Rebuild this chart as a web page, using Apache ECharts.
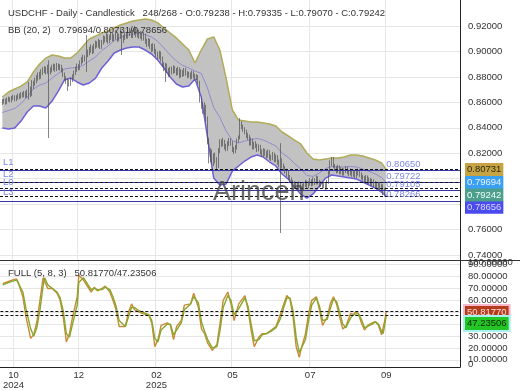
<!DOCTYPE html>
<html><head><meta charset="utf-8">
<script src="https://cdn.jsdelivr.net/npm/echarts@6/dist/echarts.min.js"></script>
<style>html,body{margin:0;padding:0;background:#fff}#c{width:520px;height:390px}</style>
</head><body><div id="c"></div>
<script>
// ---------- DATA (prices in pips: price x 10000) ----------
const opens = [
8598,8604,8613,8597,8621,8627,8614,8633,8641,8624,
8637,8651,8641,8661,8654,8669,8649,8673,8701,8664,
8721,8744,8771,8789,8811,8799,8836,8849,8861,8839,
8876,8839,8851,8869,8886,8859,8891,8874,8881,8854,
8821,8789,8771,8759,8746,8776,8799,8831,8859,8881,
8869,8911,8929,8951,8939,8976,8989,9011,9029,9001,
9039,9061,9049,9076,9039,9071,9099,9091,9119,9081,
9109,9131,9099,9111,9139,9096,9119,9151,9084,9111,
9129,9121,9139,9161,9124,9151,9169,9131,9154,9121,
9139,9106,9129,9081,9059,9086,9039,9021,9044,9001,
8979,8961,8984,8941,8899,8871,8889,8851,8821,8859,
8841,8869,8851,8829,8861,8809,8841,8819,8851,8829,
8811,8819,8801,8829,8811,8789,8801,8758,8621,8579,
8541,8559,8478,8302,8161,8209,8131,8179,8151,8091,
8221,8289,8271,8289,8251,8239,8271,8299,8281,8229,
8221,8241,8299,8321,8439,8411,8389,8371,8339,8331,
8279,8301,8249,8271,8259,8231,8249,8211,8189,8221,
8199,8181,8209,8171,8159,8191,8149,8171,8129,8111,
8141,8099,8081,8059,8041,8009,7991,7969,7961,7939,
7951,7929,7961,7939,7921,7951,7969,7941,7959,7981,
7959,7991,7969,8001,7969,7951,7959,7941,7951,7929,
7971,8041,8119,8161,8099,8081,8059,8091,8049,8071,
8039,8061,8079,8051,8039,8061,8029,8051,8019,8041,
8059,8031,8009,8001,7979,8011,7969,7991,7959,7981,
7949,7961,7929,7951,7919,7941,7904,7923.8];
const highs = [
8625,8630,8628,8638,8645,8640,8650,8660,8655,8656,
8670,8668,8680,8678,8690,8688,8700,8760,8725,8776,
8770,8795,8815,8835,8840,8860,8875,8885,8880,8895,
8930,8875,8895,8905,8900,8910,8905,8900,8895,8870,
8835,8805,8790,8780,8795,8820,8850,8880,8905,8900,
8930,8955,8975,8970,9129,9015,9035,9055,9045,9060,
9085,9080,9100,9090,9090,9125,9120,9145,9135,9130,
9155,9145,9135,9165,9150,9140,9175,9160,9130,9150,
9150,9165,9185,9180,9170,9200,9185,9175,9170,9160,
9155,9150,9140,9100,9105,9100,9060,9065,9060,9020,
9000,9005,9000,8960,8915,8910,8905,8870,8880,8880,
8890,8885,8870,8880,8875,8860,8855,8870,8870,8845,
8840,8835,8850,8845,8825,8820,8815,8770,8640,8600,
8600,8580,8490,8320,8240,8230,8200,8205,8170,8240,
8310,8310,8320,8305,8275,8295,8320,8315,8295,8250,
8265,8315,8340,8477,8450,8425,8405,8385,8360,8345,
8325,8315,8290,8295,8275,8270,8265,8230,8240,8235,
8220,8230,8225,8190,8210,8205,8190,8185,8150,8280,
8160,8120,8100,8080,8060,8030,8010,7990,7980,7975,
7970,7980,7975,7960,7970,7990,7985,7980,8005,7995,
8010,8005,8025,8020,7990,7980,7975,7970,7965,7990,
8060,8145,8171,8170,8115,8100,8110,8105,8090,8085,
8080,8100,8095,8070,8080,8075,8070,8065,8060,8080,
8075,8050,8030,8020,8030,8025,8010,8005,8000,7995,
7980,7975,7970,7965,7960,7955,7925,7933.5];
const lows = [
8580,8590,8582,8585,8605,8598,8600,8618,8608,8610,
8622,8625,8630,8638,8640,8632,8635,8620,8640,8650,
8705,8730,8750,8770,8780,8785,8815,8830,8820,8825,
8320,8820,8835,8850,8840,8845,8855,8850,8835,8800,
8770,8745,8690,8725,8730,8760,8785,8815,8840,8850,
8855,8895,8910,8920,8839,8955,8970,8990,8980,8985,
9020,9030,9030,9020,9020,9055,9070,9075,9060,9065,
9090,9080,9080,9095,9075,9080,9100,8972,9065,9090,
9100,9100,9120,9105,9105,9130,9110,9110,9100,9100,
9085,9085,9060,9035,9040,9020,8995,9000,8980,8955,
8935,8940,8920,8880,8845,8760,8830,8800,8805,8820,
8825,8830,8810,8815,8790,8795,8800,8805,8810,8790,
8795,8780,8785,8790,8770,8775,8740,8600,8550,8510,
8500,8450,8270,8120,8130,8110,8100,8120,8075,8085,
8200,8250,8255,8230,8215,8220,8255,8260,8210,8195,
8200,8230,8285,8310,8390,8370,8350,8320,8305,8260,
8260,8230,8230,8240,8210,8215,8190,8170,8175,8180,
8160,8165,8150,8140,8145,8130,8130,8110,8090,7573,
8080,8060,8040,8015,7990,7970,7950,7940,7920,7920,
7910,7910,7920,7900,7905,7935,7920,7925,7945,7940,
7945,7950,7955,7955,7930,7935,7920,7925,7910,7915,
7960,8030,8100,8085,8060,8040,8045,8035,8035,8025,
8025,8045,8035,8020,8025,8015,8015,8005,8005,8025,
8015,7995,7985,7965,7965,7955,7955,7945,7945,7935,
7930,7915,7915,7905,7900,7870,7860,7907.0];
const closes = [
8605,8612,8598,8620,8628,8615,8632,8640,8625,8638,
8650,8642,8660,8655,8668,8650,8672,8700,8665,8720,
8745,8770,8790,8810,8800,8835,8850,8860,8840,8875,
8840,8850,8870,8885,8860,8890,8875,8880,8855,8820,
8790,8770,8760,8745,8775,8800,8830,8860,8880,8870,
8910,8930,8950,8940,8975,8990,9010,9030,9000,9040,
9060,9050,9075,9040,9070,9100,9090,9120,9080,9110,
9130,9100,9110,9140,9095,9120,9150,9085,9110,9130,
9120,9140,9160,9125,9150,9170,9130,9155,9120,9140,
9105,9130,9080,9060,9085,9040,9020,9045,9000,8980,
8960,8985,8940,8900,8870,8890,8850,8820,8860,8840,
8870,8850,8830,8860,8810,8840,8820,8850,8830,8810,
8820,8800,8830,8810,8790,8800,8760,8620,8580,8540,
8560,8480,8300,8160,8210,8130,8180,8150,8090,8220,
8290,8270,8290,8250,8240,8270,8300,8280,8230,8220,
8240,8300,8320,8440,8410,8390,8370,8340,8330,8280,
8300,8250,8270,8260,8230,8250,8210,8190,8220,8200,
8180,8210,8170,8160,8190,8150,8170,8130,8110,8140,
8100,8080,8060,8040,8010,7990,7970,7960,7940,7950,
7930,7960,7940,7920,7950,7970,7940,7960,7980,7960,
7990,7970,8000,7970,7950,7960,7940,7950,7930,7970,
8040,8120,8160,8100,8080,8060,8090,8050,8070,8040,
8060,8080,8050,8040,8060,8030,8050,8020,8040,8060,
8030,8010,8000,7980,8010,7970,7990,7960,7980,7950,
7960,7930,7950,7920,7940,7905,7895,7924.2];

// Bollinger bands (20,2) read at these bar indices
const bbIdx = [0,4,8,12,16,20,24,28,32,36,40,44,48,52,56,60,64,68,72,76,80,84,88,92,96,100,104,108,112,116,120,124,128,132,136,140,144,148,152,156,160,164,168,172,176,180,184,188,192,196,200,204,208,212,216,220,224,228,232,236,240,244,247];
const bbUpper = [8642,8681,8705,8728,8760,8838,8901,8948,8972,8964,8948,8948,8988,9043,9098,9121,9145,9161,9184,9208,9224,9239,9247,9255,9247,9224,9184,9145,9106,9059,9011,8909,9011,9098,9114,9011,8791,8540,8461,8453,8445,8445,8438,8430,8414,8367,8336,8304,8273,8202,8155,8147,8155,8163,8163,8171,8186,8186,8178,8163,8147,8124,8073.1];
const bbMid = [8520,8536,8552,8590,8642,8705,8736,8752,8791,8827,8862,8870,8874,8890,8925,8956,9008,9043,9086,9110,9126,9137,9141,9133,9114,9079,9027,8972,8925,8890,8870,8846,8827,8713,8560,8481,8375,8300,8281,8296,8308,8316,8304,8281,8257,8202,8167,8120,8077,8025,8018,8045,8080,8096,8092,8092,8096,8092,8076,8057,8037,8010,7969.4];
const bbLower = [8398,8390,8398,8453,8524,8571,8571,8555,8610,8689,8776,8791,8760,8736,8752,8791,8870,8925,8988,9011,9027,9035,9035,9011,8980,8933,8870,8799,8744,8721,8728,8783,8642,8328,8005,7950,7958,8060,8100,8139,8170,8186,8170,8131,8100,8037,7997,7935,7880,7848,7880,7942,8005,8029,8021,8013,8005,7997,7974,7950,7927,7895,7865.6];

// Full stochastic (5,8,3) read at these bar indices
const stIdx = [0,2,6,9,10,13,15,18,20,22,24,26,27,29,32,35,37,39,41,43,45,48,49,52,55,57,59,61,64,66,69,71,73,75,79,81,83,85,88,92,94,96,98,100,102,106,108,110,112,115,117,121,123,126,128,130,132,135,138,140,142,145,147,149,152,156,158,160,162,165,167,170,173,176,179,181,183,185,187,189,191,192,195,197,199,202,204,206,209,211,213,215,217,219,221,224,226,227,229,231,233,235,238,240,242,244,245,246,247];
const stK = [74,75,77,78,75,63,46,28,31,42,60,79,78,70,70,66,60,46,25,32,46,63,81,77,71,67,71,68,70,72,67,60,52,38,38,50,57,52,50,48,48,41,21,27,39,41,39,27,38,43,56,57,66,54,36,32,24,18,23,41,60,67,57,43,57,64,52,35,21,29,32,32,35,38,49,57,64,61,46,21,12,18,32,49,60,63,52,39,46,57,63,57,46,36,38,49,48,50,49,41,35,39,41,42,39,31,32,43,50.8177];
const stD = [73,74,76,77,76,67,53,36,30,37,52,72,79,73,70,67,62,51,32,29,40,56,75,79,73,69,70,69,69,71,69,63,55,43,38,46,54,54,51,49,48,43,28,25,35,40,40,31,35,41,52,57,63,58,42,34,27,20,21,35,54,64,60,48,53,62,55,40,26,27,31,32,34,37,45,54,62,62,51,29,16,16,27,43,56,62,55,43,44,53,61,59,50,40,37,45,48,49,49,44,37,38,40,42,40,34,32,39,47.23506];

// Horizontal levels
const levelNames = ['L1','L2','L0','L3'];
const levelValues = [0.80650,0.79722,0.79105,0.78266];

// Axis ticks
const priceTicks = [0.74,0.76,0.78,0.80,0.82,0.84,0.86,0.88,0.90,0.92];
const stochTicks = [10,20,30,40,50,60,70,80,90];
const monthTickBars = [7,49,99,148,198,247];
const monthTickText = ['10\n2024','12','02\n2025','05','07','09'];

// ---------- BUILD ----------
const FONT = '"Liberation Sans", Arial, sans-serif';
const GRID = '#e6e6e6';
const P = v => v / 10000;
const SLOTS = 296;               // slot 0 empty, bar i in slot i+1, empty future slots on the right
const cats = [];
for (let k = 0; k < SLOTS; k++) cats.push(String(k));
const tickSlots = monthTickBars.map(b => b + 1);
const last = closes.length - 1;
const candleData = ['-'].concat(closes.map((c, i) => [P(opens[i]), P(c), P(lows[i]), P(highs[i])]));

const boxLabel = (bg, fg, dy, halo) => ({
  show: true, position: 'end', distance: 5,
  formatter: p => Number(p.value).toFixed(5),
  backgroundColor: bg, color: fg, padding: [2, 2, 1, 2], fontSize: 9.5, fontFamily: FONT,
  offset: [0, dy], borderColor: halo || 'transparent', borderWidth: halo ? 2 : 0
});
const dashLine = {type: [3, 2], color: '#111', width: 1};
const NAVY = '#3535a8', PERI = '#8088e6';

const levelLines = [];
levelValues.forEach((v, k) => {
  levelLines.push({yAxis: v, lineStyle: {color: NAVY, type: 'solid', width: 1.2},
    label: {show: true, position: 'insideStartTop', distance: 3, formatter: levelNames[k], color: PERI, fontSize: 9.5, fontFamily: FONT}});
  const lab = {show: true, position: 'end', distance: 0, offset: [0, -6], formatter: v.toFixed(5), color: PERI, fontSize: 9.5, fontFamily: FONT};
  levelLines.push([{coord: [-1.5, v], lineStyle: {color: NAVY, type: 'solid', width: 1.2}, label: lab},
                   {coord: [last, v], lineStyle: {color: NAVY, type: 'solid', width: 1.2}, label: lab}]);
});

const axisLab = {color: '#333', fontSize: 9.5, fontFamily: FONT};
const lastLine = arr => arr[arr.length - 1];
const ML = extra => Object.assign({symbol: 'none', silent: true, animation: false, precision: 6}, extra);

const option = {
  animation: false,
  textStyle: {fontFamily: FONT},
  grid: [
    {left: 0, right: 60, top: 0, height: 260.7},
    {left: 0, right: 60, top: 260.7, height: 107.3}
  ],
  xAxis: [
    {type: 'category', gridIndex: 0, data: cats, boundaryGap: true,
     axisLine: {show: false, onZero: false}, axisTick: {show: false}, axisLabel: {show: false},
     splitLine: {show: true, interval: i => tickSlots.includes(i), lineStyle: {color: GRID}}},
    {type: 'value', gridIndex: 0, min: -1.5, max: SLOTS - 1.5, show: false},
    {type: 'category', gridIndex: 1, data: cats, boundaryGap: true,
     axisLine: {show: true, onZero: false, lineStyle: {color: '#222'}}, axisTick: {show: false},
     axisLabel: Object.assign({interval: i => tickSlots.includes(i), margin: 3, lineHeight: 10,
       formatter: (v) => { const j = tickSlots.indexOf(Number(v)); return j >= 0 ? monthTickText[j] : ''; }}, axisLab),
     splitLine: {show: true, interval: i => tickSlots.includes(i), lineStyle: {color: GRID}}},
    {type: 'value', gridIndex: 1, min: -1.5, max: SLOTS - 1.5, show: false}
  ],
  yAxis: [
    {type: 'value', gridIndex: 0, position: 'right', min: 0.73556, max: 0.94043,
     axisLine: {show: true, onZero: false, lineStyle: {color: '#222'}},
     axisTick: {show: false, customValues: priceTicks},
     axisLabel: Object.assign({customValues: priceTicks, margin: 8, formatter: v => v.toFixed(5)}, axisLab),
     splitLine: {show: true, lineStyle: {color: GRID}}},
    {type: 'value', gridIndex: 1, position: 'right', min: 3.92, max: 93.33,
     axisLine: {show: true, onZero: false, lineStyle: {color: '#222'}},
     axisTick: {show: false, customValues: stochTicks},
     axisLabel: Object.assign({customValues: stochTicks, margin: 8, formatter: v => v.toFixed(5)}, axisLab),
     splitLine: {show: true, lineStyle: {color: GRID}}}
  ],
  series: [
    {type: 'custom', name: 'band', xAxisIndex: 1, yAxisIndex: 0, clip: true, silent: true, z: 1,
     data: [[bbIdx[0], P(bbMid[0])]],
     renderItem: (params, api) => {
       const pts = [];
       for (let k = 0; k < bbIdx.length; k++) pts.push(api.coord([bbIdx[k], P(bbUpper[k])]));
       for (let k = bbIdx.length - 1; k >= 0; k--) pts.push(api.coord([bbIdx[k], P(bbLower[k])]));
       return {type: 'polygon', shape: {points: pts}, style: {fill: '#c2c2c2'}};
     }},
    {type: 'line', name: 'upper', xAxisIndex: 1, yAxisIndex: 0, z: 3, silent: true,
     data: bbIdx.map((x, k) => [x, P(bbUpper[k])]), symbol: 'none',
     lineStyle: {color: '#b2ab58', width: 1.5},
     markLine: ML({data: levelLines.concat([{yAxis: P(lastLine(bbUpper)), lineStyle: dashLine, label: boxLabel('#c6a443', '#2e2a10', 0)}])})},
    {type: 'line', name: 'lower', xAxisIndex: 1, yAxisIndex: 0, z: 3, silent: true,
     data: bbIdx.map((x, k) => [x, P(bbLower[k])]), symbol: 'none',
     lineStyle: {color: '#6d60d8', width: 1.5},
     markLine: ML({data: [{yAxis: P(lastLine(bbLower)), lineStyle: dashLine, label: boxLabel('#4a4aef', '#dcdcff', 11.5)}]})},
    {type: 'line', name: 'mid', xAxisIndex: 1, yAxisIndex: 0, z: 3, silent: true,
     data: bbIdx.map((x, k) => [x, P(bbMid[k])]), symbol: 'none',
     lineStyle: {color: '#8a84cc', width: 0.9},
     markLine: ML({data: [{yAxis: P(lastLine(bbMid)), lineStyle: dashLine, label: boxLabel('#3aa0f3', '#e8f5ff', 0)}]})},
    {type: 'candlestick', name: 'USDCHF', xAxisIndex: 0, yAxisIndex: 0, z: 4, silent: true,
     data: candleData, barWidth: 1,
     itemStyle: {color: '#555', color0: '#555', borderColor: '#505050', borderColor0: '#505050', borderWidth: 0.7},
     markLine: ML({data: [{yAxis: P(closes[last]), lineStyle: dashLine, label: boxLabel('#4e9e8e', '#effff8', 6.6)}]})},
    {type: 'line', name: 'K', xAxisIndex: 3, yAxisIndex: 1, z: 3, silent: true,
     data: stIdx.map((x, k) => [x, stK[k]]), symbol: 'none',
     lineStyle: {color: '#c98a34', width: 1.4},
     markLine: ML({data: [{yAxis: lastLine(stK), lineStyle: dashLine, label: boxLabel('#b53c1c', '#ffe0d6', 1.3, '#f9b9cc')}]})},
    {type: 'line', name: 'D', xAxisIndex: 3, yAxisIndex: 1, z: 3, silent: true,
     data: stIdx.map((x, k) => [x, stD[k]]), symbol: 'none',
     lineStyle: {color: '#86a82e', width: 1.4},
     markLine: ML({data: [{yAxis: lastLine(stD), lineStyle: dashLine, label: boxLabel('#24c424', '#0c2a0c', 8, '#a6f2f2')}]})}
  ],
  graphic: [
    {type: 'line', silent: true, z: 20, shape: {x1: 0, y1: 260.5, x2: 520, y2: 260.5}, style: {stroke: '#333', lineWidth: 1}},
    {type: 'text', silent: true, z: 20, x: 8, y: 13, style: {text: 'USDCHF - Daily - Candlestick   ' + '248/268 - O:' + P(opens[last]).toFixed(5) + ' - H:' + P(highs[last]).toFixed(5) + ' - L:' + P(lows[last]).toFixed(5) + ' - C:' + P(closes[last]).toFixed(5), fill: '#333', fontSize: 9.5, fontFamily: FONT, verticalAlign: 'middle'}},
    {type: 'text', silent: true, z: 20, x: 8, y: 30, style: {text: 'BB (20, 2)   ' + P(lastLine(bbMid)).toFixed(5) + '/' + P(lastLine(bbUpper)).toFixed(5) + '/' + P(lastLine(bbLower)).toFixed(5), fill: '#333', fontSize: 9.5, fontFamily: FONT, verticalAlign: 'middle'}},
    {type: 'text', silent: true, z: 20, x: 8, y: 273, style: {text: 'FULL (5, 8, 3)   ' + lastLine(stK).toFixed(5) + '/' + lastLine(stD).toFixed(5), fill: '#333', fontSize: 9.5, fontFamily: FONT, verticalAlign: 'middle'}},
    {type: 'text', silent: true, z: 20, x: 468, y: 262, style: {text: '100.00000', fill: '#333', fontSize: 9.5, fontFamily: FONT, verticalAlign: 'middle'}},
    {type: 'text', silent: true, z: 20, x: 468, y: 364, style: {text: '0', fill: '#333', fontSize: 9.5, fontFamily: FONT, verticalAlign: 'middle'}},
    {type: 'text', silent: true, z: 15, x: 213, y: 193, style: {text: 'Arincen', fill: 'rgba(70,70,70,0.8)', fontSize: 27, fontFamily: FONT, verticalAlign: 'middle'}}
  ]
};
const chart = echarts.init(document.getElementById('c'), null, {renderer: 'canvas', width: 520, height: 390});
chart.setOption(option);
</script>
</body></html>
